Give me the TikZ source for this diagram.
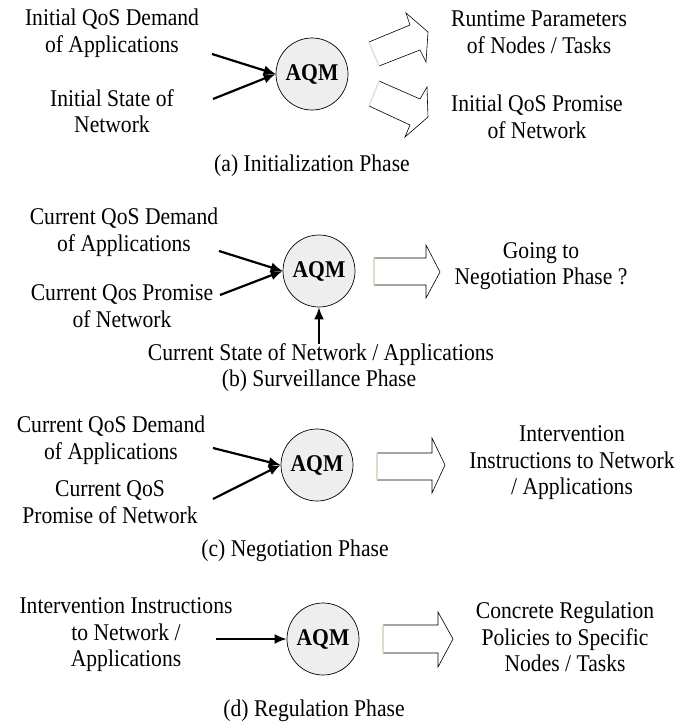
\documentclass[tikz,border=0pt]{standalone}
\usepackage{fontspec}
\setmainfont{Liberation Serif}[FakeStretch = 0.9]
\usetikzlibrary{arrows.meta}

\definecolor{aqmgray}{HTML}{EEEEEE}
\definecolor{edgegray}{HTML}{DCDCCB}

\begin{document}
\begin{tikzpicture}[x = 1pt, y = -1pt,
        lbl/.style = {align = center, inner sep = 0pt, font = \fontsize{24}{26.5}\selectfont},
        aqm/.style = {circle, draw, line width = 0.7pt, fill = aqmgray, minimum size = 72pt, inner sep = 0pt, font = \fontsize{24}{26}\selectfont\bfseries},
        feed/.style = {line width = 2.2pt, -{Latex[length = 12pt, width = 10pt]}},
        blockarrow/.style = {draw, line width = 0.6pt, fill = white, line join = miter},
        tailedge/.style = {draw = edgegray, line width = 1.2pt}]
        \useasboundingbox (0, 0) rectangle (680, 723);

        \node[lbl] (demA) at (112, 33) {Initial QoS Demand\\of Applications};
        \node[lbl] (stateA) at (112, 111) {Initial State of\\Network};
        \node[aqm] (aqmA) at (312, 74) {AQM};
        \node[lbl] (runA) at (539, 32) {Runtime Parameters\\of Nodes / Tasks};
        \node[lbl] (promA) at (537, 117) {Initial QoS Promise\\of Network};
        \node[lbl] (capA) at (312, 166) {(a) Initialization Phase};
        \coordinate (inA1) at (212, 54);
        \coordinate (inA2) at (213, 99);
        \draw[feed] (inA1) -- (aqmA.west);
        \draw[feed] (inA2) -- (aqmA.west);
        \draw[blockarrow] (369, 42) -- (410, 25) -- (406, 13) -- (428, 32) -- (426, 62) -- (420, 50) -- (379, 66);
        \draw[tailedge] (379, 66) -- (369, 42);
        \draw[blockarrow] (379, 81) -- (420, 99) -- (427, 87) -- (428, 117) -- (405, 137) -- (410, 125) -- (369, 106);
        \draw[tailedge] (369, 106) -- (379, 81);

        \node[lbl] (demB) at (124, 232) {Current QoS Demand\\of Applications};
        \node[lbl] (promB) at (122, 306) {Current Qos Promise\\of Network};
        \node[aqm] (aqmB) at (319, 271) {AQM};
        \node[lbl] (goB) at (541, 266) {Going to\\Negotiation Phase ?};
        \node[lbl] (stateB) at (321, 355) {Current State of Network / Applications};
        \node[lbl] (capB) at (319, 381) {(b) Surveillance Phase};
        \coordinate (inB1) at (219, 251);
        \coordinate (inB2) at (220, 295);
        \draw[feed] (inB1) -- (aqmB.west);
        \draw[feed] (inB2) -- (aqmB.west);
        \draw[feed] (aqmB.south |- stateB.north) -- (aqmB.south);
        \draw[blockarrow] (374, 258) -- (426, 258) -- (426, 245) -- (440, 272) -- (426, 298) -- (426, 285) -- (374, 285);
        \draw[tailedge] (374, 285) -- (374, 258);

        \node[lbl] (demC) at (111, 440) {Current QoS Demand\\of Applications};
        \node[lbl] (promC) at (110, 502) {Current QoS\\Promise of Network};
        \node[aqm] (aqmC) at (317, 465) {AQM};
        \node[lbl] (instC) at (572, 463) {Intervention\\Instructions to Network\\/ Applications};
        \node[lbl] (capC) at (295, 551) {(c) Negotiation Phase};
        \coordinate (inC1) at (213, 448);
        \coordinate (inC2) at (213, 499);
        \draw[feed] (inC1) -- (aqmC.west);
        \draw[feed] (inC2) -- (aqmC.west);
        \draw[blockarrow] (377, 453) -- (432, 453) -- (432, 438) -- (445, 465) -- (432, 493) -- (432, 480) -- (377, 480);
        \draw[tailedge] (377, 480) -- (377, 453);

        \node[lbl] (instD) at (126, 635) {Intervention Instructions\\to Network /\\Applications};
        \node[aqm] (aqmD) at (323, 639) {AQM};
        \node[lbl] (polD) at (565, 637) {Concrete Regulation\\Policies to Specific\\Nodes / Tasks};
        \node[lbl] (capD) at (314, 711) {(d) Regulation Phase};
        \coordinate (inD) at (216, 639);
        \draw[feed] (inD) -- (aqmD.west);
        \draw[blockarrow] (383, 625) -- (438, 625) -- (438, 612) -- (453, 639) -- (438, 667) -- (438, 653) -- (383, 653);
        \draw[tailedge] (383, 653) -- (383, 625);
    \end{tikzpicture}
\end{document}
